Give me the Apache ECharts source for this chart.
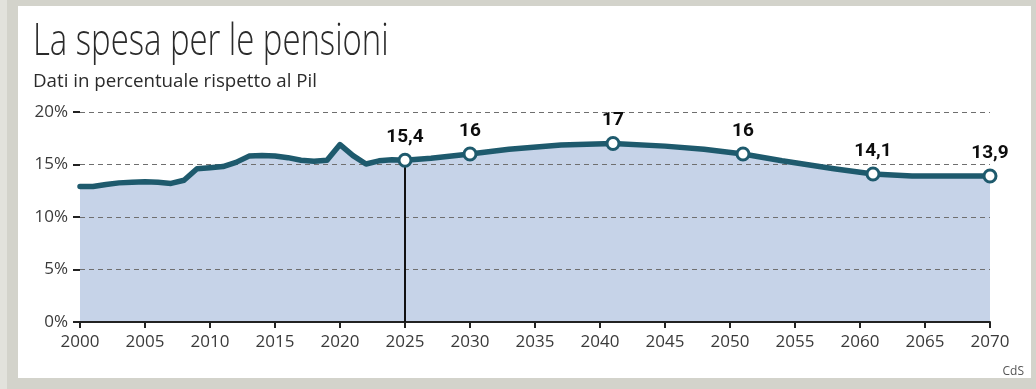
<!DOCTYPE html>
<html>
<head>
<meta charset="utf-8">
<script src="https://cdn.jsdelivr.net/npm/echarts@6/dist/echarts.min.js"></script>
<style>
html,body{margin:0;padding:0;background:#d3d3cb;}
#c{width:1036px;height:389px;}
</style>
</head>
<body>
<div id="c"></div>
<script>
// ---- data ----
const titleText = "La spesa per le pensioni";
const subtitleText = "Dati in percentuale rispetto al Pil";
const sourceText = "CdS";
const years = [2000,2001,2002,2003,2004,2005,2006,2007,2008,2009,2010,2011,2012,2013,2014,2015,2016,2017,2018,2019,2020,2021,2022,2023,2024,2025,2027,2030,2033,2037,2041,2045,2048,2051,2054,2058,2061,2064,2067,2070];
const values = [12.9,12.9,13.1,13.25,13.3,13.35,13.3,13.2,13.5,14.6,14.7,14.8,15.2,15.8,15.85,15.8,15.65,15.4,15.3,15.4,16.9,15.85,15.05,15.35,15.45,15.4,15.6,16.0,16.45,16.85,17.0,16.75,16.45,16.0,15.35,14.6,14.1,13.9,13.9,13.9];
const keyYears = [2025,2030,2041,2051,2061,2070];
const keyValues = [15.4,16,17,16,14.1,13.9];
const keyLabels = ["15,4","16","17","16","14,1","13,9"];
const refYear = 2025;
const refValue = 15.4;
const yTicks = [0,5,10,15,20];
const xMin = 2000, xMax = 2070, xStep = 5;

// ---- chart ----
const chart = echarts.init(document.getElementById('c'), null, {renderer:'canvas'});
const lineColor = '#1e5a6d';
const seriesData = years.map((y,i)=>[y, values[i]]);
const option = {
  backgroundColor: '#d3d3cb',
  animation: false,
  graphic: [
    {type:'rect', z:-10, shape:{x:0,y:0,width:7,height:389}, style:{fill:'#e2e2dc'}},
    {type:'rect', z:-10, shape:{x:18,y:6,width:1013,height:372}, style:{fill:'#ffffff'}},
    {type:'text', x:33, y:20, scaleX:0.73, style:{text:titleText, font:'300 45px "Open Sans"', fill:'#2b2b2b', verticalAlign:'top'}},
    {type:'text', x:33, y:73, scaleX:1.04, style:{text:subtitleText, font:'400 18px "Open Sans"', fill:'#2b2b2b', verticalAlign:'top'}},
    {type:'text', x:1024, y:366, style:{text:sourceText, font:'400 12px "Open Sans"', fill:'#555', align:'right', verticalAlign:'top'}}
  ],
  grid: {left:80, right:46, top:112, bottom:67, containLabel:false},
  xAxis: {
    type:'value', min:xMin, max:xMax, interval:xStep, z:4,
    axisLine:{show:true, onZero:false, lineStyle:{color:'#222', width:2}},
    axisTick:{show:true, length:6, lineStyle:{color:'#222', width:2}},
    axisLabel:{color:'#3a3a3a', fontSize:17, fontFamily:'Open Sans', margin:12, formatter:v=>String(v)},
    splitLine:{show:false}
  },
  yAxis: {
    type:'value', min:yTicks[0], max:yTicks[yTicks.length-1], interval:5, z:2,
    axisLine:{show:false},
    axisTick:{show:true, length:7, lineStyle:{color:'#222', width:2}},
    axisLabel:{color:'#3a3a3a', fontSize:17, fontFamily:'Open Sans', margin:12, formatter:v=>v+'%'},
    splitLine:{show:true, lineStyle:{color:'#6f6f6f', width:1, type:[5,4]}}
  },
  series: [
    {
      type:'line', z:1,
      data: seriesData,
      showSymbol:false, smooth:false,
      lineStyle:{width:0, opacity:0},
      areaStyle:{color:'#c6d3e8', opacity:1}
    },
    {
      type:'line', z:3,
      data: seriesData,
      showSymbol:false, smooth:false,
      lineStyle:{color:lineColor, width:5.5, join:'round', cap:'round'},
      markLine:{
        silent:true, symbol:['none','none'], label:{show:false},
        lineStyle:{color:'#111', width:2, type:'solid'},
        data:[[{coord:[refYear,0]},{coord:[refYear,refValue]}]]
      }
    },
    {
      type:'scatter', z:5,
      data: keyYears.map((y,i)=>[y, keyValues[i]]),
      symbol:'circle', symbolSize:12,
      itemStyle:{color:'#ffffff', borderColor:lineColor, borderWidth:3, opacity:1},
      label:{show:true, position:'top', distance:6, color:'#0d0d0d', fontSize:19, fontWeight:'bold', fontFamily:'Roboto',
        formatter:p=>keyLabels[p.dataIndex]}
    }
  ]
};
chart.setOption(option);
</script>
</body>
</html>
